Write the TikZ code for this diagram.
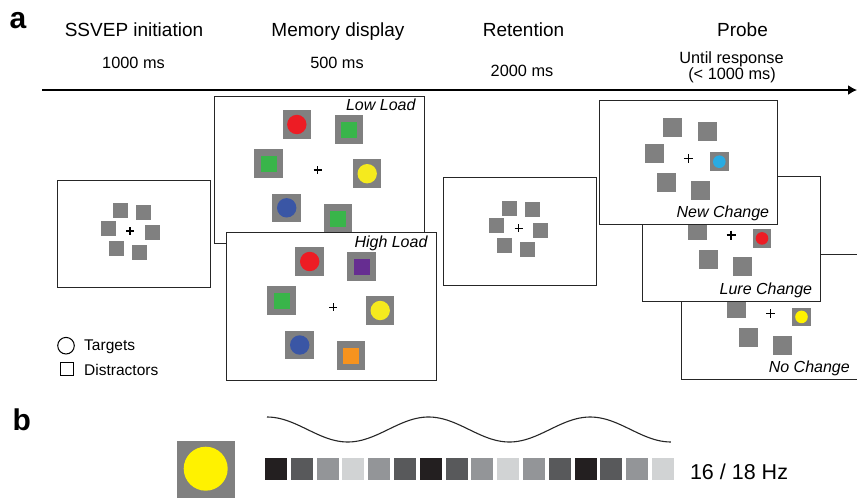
\documentclass[tikz,border=0pt]{standalone}
\usepackage{fontspec}
\setmainfont{Liberation Sans}
\usetikzlibrary{arrows.meta}
\definecolor{stimgray}{RGB}{128,128,128}
\definecolor{sred}{HTML}{ED1C24}
\definecolor{sgreen}{HTML}{39B54A}
\definecolor{syellow}{HTML}{F5EA1E}
\definecolor{byellow}{HTML}{FFF200}
\definecolor{sblue}{HTML}{3A56A5}
\definecolor{spurple}{HTML}{662D91}
\definecolor{sorange}{HTML}{F7931E}
\definecolor{scyan}{HTML}{29ABE2}
\definecolor{kA}{HTML}{231F20}
\definecolor{kB}{HTML}{58595B}
\definecolor{kC}{HTML}{939598}
\definecolor{kD}{HTML}{D1D3D4}
% big stimulus: gray square with coloured square
\newcommand\Gsq[3]{\fill[stimgray,shift={(#1,#2)}] (-14.25,-14.25) rectangle (14.25,14.25);
  \fill[#3,shift={(#1,#2)}] (-8,-8) rectangle (8,8);}
% big stimulus: gray square with coloured circle
\newcommand\Gci[3]{\fill[stimgray,shift={(#1,#2)}] (-14.25,-14.25) rectangle (14.25,14.25);
  \fill[#3] (#1,#2) circle[radius=9.7];}
% plain gray square of size #3
\newcommand\Dsq[3]{\fill[stimgray,shift={(#1,#2)}] (-#3/2,-#3/2) rectangle (#3/2,#3/2);}
% fixation cross
\newcommand\fixc[3]{\draw[line width=1.4,shift={(#1,#2)}] (-#3,0) -- (#3,0) (0,-#3) -- (0,#3);}
% small six-square ring (SSVEP / retention)
\newcommand\ring[2]{%
  \begin{scope}[shift={(#1,#2)}]
  \Dsq{-9.5}{-20.3}{15}\Dsq{13.5}{-18.8}{15}\Dsq{-22}{-2.8}{15}
  \Dsq{22.2}{1.8}{15}\Dsq{-13.8}{17.3}{15}\Dsq{9.2}{21.6}{15}
  \fixc{0}{0}{4}
  \end{scope}}
% probe content
\newcommand\probe[3]{%
  \begin{scope}[shift={(#1,#2)}]
  \Dsq{-15.6}{-30.6}{19}\Dsq{18.7}{-27.3}{19}\Dsq{-34}{-4.6}{19}
  \Dsq{-22.3}{24.4}{19}\Dsq{11.7}{31.7}{19}
  \Dsq{31}{3.4}{18.5}\fill[#3] (31,3.4) circle[radius=6.3];
  \fixc{0}{0}{4.5}
  \end{scope}}
\tikzset{
  panel/.style={draw=black!85, line width=1.3, fill=white, rectangle, inner sep=0, anchor=north west},
  head/.style={font=\fontsize{19}{22}\selectfont, anchor=base},
  dur/.style={font=\fontsize{16.3}{19}\selectfont, anchor=base},
  cond/.style={font=\fontsize{16}{19}\selectfont\itshape, anchor=base east},
  leg/.style={font=\fontsize{15.5}{18}\selectfont, anchor=base west},
  plab/.style={font=\fontsize{30}{34}\selectfont\bfseries, anchor=base west}
}
\begin{document}
\begin{tikzpicture}[x=1pt,y=-1pt]
\clip (0,0) rectangle (857,498);
\fill[white] (0,0) rectangle (857,498);

% labels
\node[plab] (la) at (6,28.3) {a};
\node[plab] (lb) at (9,430) {b};

% headings
\node[head] (h1) at (134,36) {SSVEP initiation};
\node[head] (h2) at (338,36) {Memory display};
\node[head] (h3) at (523.5,36.7) {Retention};
\node[head] (h4) at (742.5,36.7) {Probe};
\node[dur] (d1) at (133.5,68.3) {1000 ms};
\node[dur] (d2) at (337,68.3) {500 ms};
\node[dur] (d3) at (522,76.7) {2000 ms};
\node[dur] (d4) at (731.5,63.3) {Until response};
\node[dur] (d5) at (732,79.5) {(< 1000 ms)};

% timeline
\coordinate (t0) at (42,90);
\coordinate (t1) at (857,90);
\draw[line width=1.5, -{Latex[length=9,width=10]}] (t0) -- (t1);

% SSVEP panel
\node[panel, minimum width=153, minimum height=107] (pS) at (57,180) {};
\ring{130}{231}

% Low load panel
\node[panel, minimum width=210, minimum height=147] (pL) at (214,96) {};
\Gci{296.8}{124.5}{sred}
\Gsq{348.8}{129.5}{sgreen}
\Gsq{268.7}{163.7}{sgreen}
\Gci{367.2}{173.7}{syellow}
\Gci{286.7}{207.8}{sblue}
\Gsq{338.2}{218.7}{sgreen}
\fixc{317.7}{170}{4}
\node[cond] (tL) at (419,110.7) {Low Load};

% High load panel
\node[panel, minimum width=210, minimum height=148] (pH) at (226,232) {};
\Gci{309.7}{261.5}{sred}
\Gsq{361.7}{266.5}{spurple}
\Gsq{281.7}{300.7}{sgreen}
\Gci{380.2}{310.5}{syellow}
\Gci{299.7}{345}{sblue}
\Gsq{351}{355.7}{sorange}
\fixc{333.3}{307.3}{4}
\node[cond] (tH) at (431,247.7) {High Load};

% Legend
\node[draw, circle, line width=1, minimum size=16.6, inner sep=0] (lc) at (66,345.7) {};
\node[draw, rectangle, line width=1, minimum size=13.3, inner sep=0] (ls) at (66.7,369.3) {};
\node[leg] (lt) at (80.7,350.7) {Targets};
\node[leg] (ld) at (80.7,375.8) {Distractors};

% Retention panel
\node[panel, minimum width=153, minimum height=108] (pR) at (443,177) {};
\ring{518.7}{228.3}

% Probe panels
\node[panel, minimum width=178, minimum height=125] (pN) at (681,254) {};
\probe{770.5}{313.5}{byellow}
\node[cond] (tN) at (853.3,372.7) {No Change};

\node[panel, minimum width=178, minimum height=125] (pU) at (642,176) {};
\probe{731}{235}{sred}
\node[cond] (tU) at (815.7,294) {Lure Change};

\node[panel, minimum width=178, minimum height=124] (pW) at (599,100) {};
\probe{688.3}{158.3}{scyan}
\node[cond] (tW) at (772.7,217.3) {New Change};

% Panel b
\fill[stimgray] (176.7,440.7) rectangle (234.7,499);
\fill[byellow] (205.7,468.7) circle[radius=22];
\draw[line width=1.1, black!85] plot[domain=0:2.5, samples=120, smooth] ({267+\x*161.6},{429.5-12.5*cos(360*\x)});
\foreach \i/\c in {0/kA,1/kB,2/kC,3/kD,4/kC,5/kB,6/kA,7/kB,8/kC,9/kD,10/kC,11/kB,12/kA,13/kB,14/kC,15/kD}
  \fill[\c] (265+\i*25.8,457.7) rectangle ++(22,22);
\node[font=\fontsize{21.5}{24}\selectfont, anchor=base west] (hz) at (686.5,479.5) {16 / 18 Hz};
\end{tikzpicture}
\end{document}
